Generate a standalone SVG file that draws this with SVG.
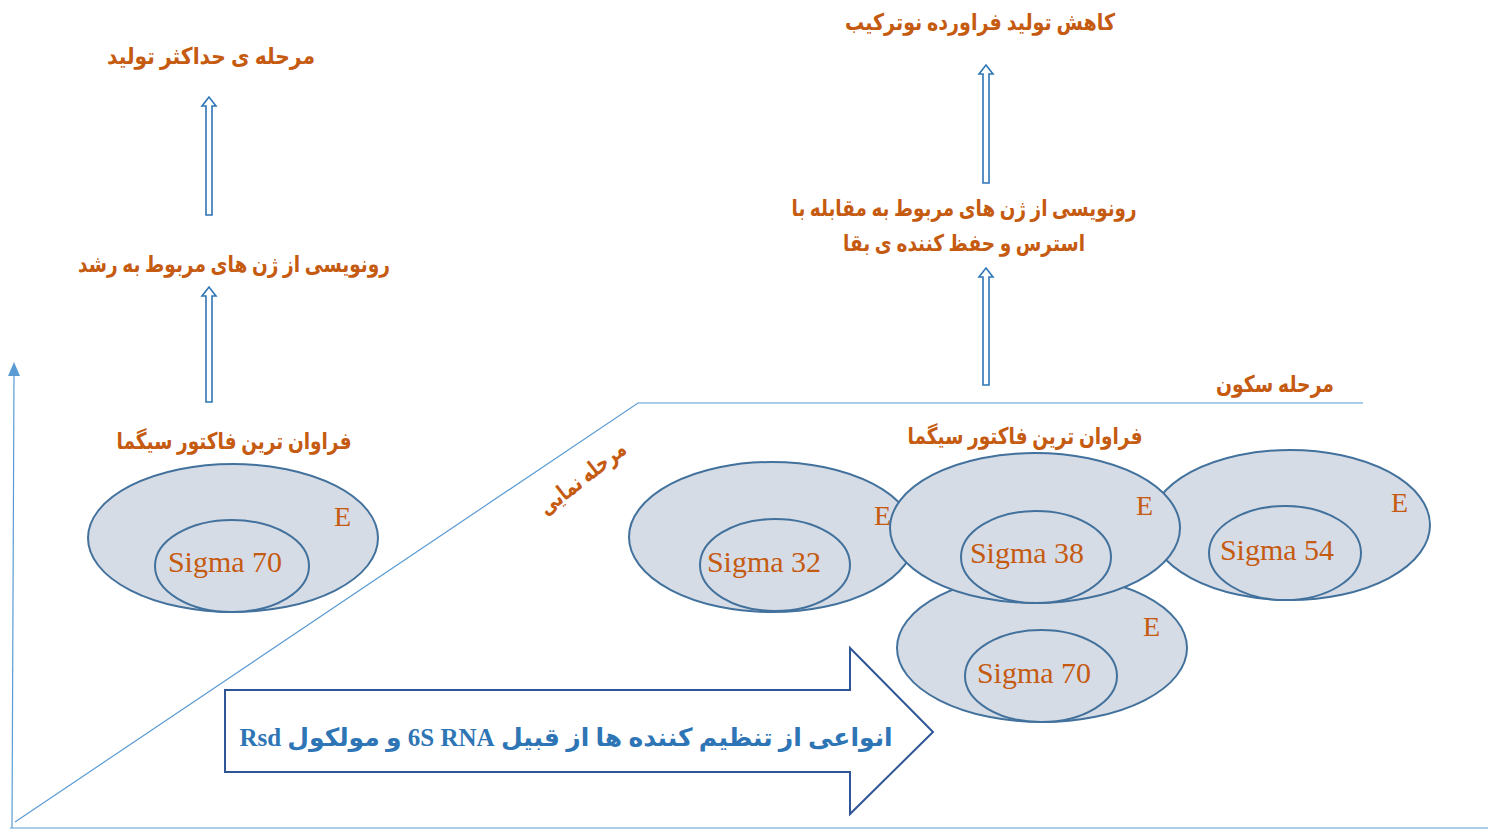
<svg xmlns="http://www.w3.org/2000/svg" width="1488" height="833" viewBox="0 0 1488 833">
<defs>
<style>
.fa{font-family:"Liberation Serif","DejaVu Sans",serif;font-weight:bold;fill:#C55A11;direction:rtl;text-anchor:middle;font-size:23px}
.lat{font-family:"Liberation Serif",serif;fill:#C55A11;font-size:30px;text-anchor:middle}
.e{font-family:"Liberation Serif",serif;fill:#C55A11;font-size:28px}
.outer{fill:#D6DCE5;stroke:#41719C;stroke-width:2}
.inner{fill:#D6DCE5;stroke:#41719C;stroke-width:2}
.ax{stroke:#5B9BD5;stroke-width:1.2;fill:none}
.dbl{fill:#fff;stroke:#2E75B6;stroke-width:1.6}
</style>
</defs>
<rect width="1488" height="833" fill="#fff"/>

<g id="axes">
<line class="ax" x1="12" y1="828" x2="14" y2="372"/>
<polygon points="8,376 20,376 14,362" fill="#5B9BD5"/>
<line class="ax" x1="10" y1="828" x2="1488" y2="828"/>
<polyline class="ax" points="15,822 638,403 1363,403"/>
</g>

<g id="connectors">
<path class="dbl" d="M206,402 V296 H202 L209,287 L216,296 H212 V402 Z"/>
<path class="dbl" d="M206,215 V106 H202 L209,97 L216,106 H212 V215 Z"/>
<path class="dbl" d="M983,385 V277 H979 L986,268 L993,277 H989 V385 Z"/>
<path class="dbl" d="M983,183 V74 H979 L986,65 L993,74 H989 V183 Z"/>
</g>

<g id="txt-max"><text class="fa" x="211" y="64" textLength="208" lengthAdjust="spacingAndGlyphs">مرحله ی حداکثر تولید</text></g>
<g id="txt-growth"><text class="fa" x="234" y="272" textLength="312" lengthAdjust="spacingAndGlyphs">رونویسی از ژن های مربوط به رشد</text></g>
<g id="txt-reduce"><text class="fa" x="980" y="30" textLength="270" lengthAdjust="spacingAndGlyphs">کاهش تولید فراورده نوترکیب</text></g>
<g id="txt-stress"><text class="fa" x="964" y="216" textLength="345" lengthAdjust="spacingAndGlyphs">رونویسی از ژن های مربوط به مقابله با</text><text class="fa" x="964" y="251" textLength="242" lengthAdjust="spacingAndGlyphs">استرس و حفظ  کننده ی بقا</text></g>
<g id="txt-stationary"><text class="fa" x="1275" y="392" textLength="118" lengthAdjust="spacingAndGlyphs">مرحله سکون</text></g>
<g id="txt-exp"><text class="fa" x="0" y="0" transform="translate(587,484) rotate(-38)" textLength="104" lengthAdjust="spacingAndGlyphs">مرحله نمایی</text></g>

<g id="node-left">
<text class="fa" x="234" y="449" textLength="235" lengthAdjust="spacingAndGlyphs">فراوان ترین فاکتور سیگما</text>
<ellipse class="outer" cx="233" cy="538" rx="145" ry="74"/>
<ellipse class="inner" cx="232" cy="566" rx="77" ry="46"/>
<text class="lat" x="225" y="572">Sigma 70</text>
<text class="e" x="334" y="526">E</text>
</g>

<g id="node-s70">
<ellipse class="outer" cx="1042" cy="648" rx="145" ry="74"/>
<ellipse class="inner" cx="1041" cy="676" rx="76" ry="46"/>
<text class="lat" x="1034" y="683">Sigma 70</text>
<text class="e" x="1143" y="636">E</text>
</g>

<g id="node-s32">
<ellipse class="outer" cx="772" cy="537" rx="143" ry="75"/>
<ellipse class="inner" cx="775" cy="565" rx="75" ry="46"/>
<text class="lat" x="764" y="572">Sigma 32</text>
<text class="e" x="874" y="525">E</text>
</g>

<g id="node-s54">
<ellipse class="outer" cx="1290" cy="525" rx="140" ry="75"/>
<ellipse class="inner" cx="1285" cy="553" rx="76" ry="47"/>
<text class="lat" x="1277" y="560">Sigma 54</text>
<text class="e" x="1391" y="512">E</text>
</g>

<g id="node-s38">
<text class="fa" x="1025" y="444" textLength="235" lengthAdjust="spacingAndGlyphs">فراوان ترین فاکتور سیگما</text>
<ellipse class="outer" cx="1035" cy="528" rx="145" ry="75"/>
<ellipse class="inner" cx="1036" cy="557" rx="75" ry="46"/>
<text class="lat" x="1027" y="563">Sigma 38</text>
<text class="e" x="1136" y="515">E</text>
</g>

<g id="node-arrow">
<polygon points="225,690 850,690 850,648 933,732 850,814 850,772 225,772" fill="#fff" stroke="#2F5597" stroke-width="2"/>
<text x="566" y="746" font-family="Liberation Serif,DejaVu Sans,serif" font-weight="bold" font-size="25" fill="#2E75B6" text-anchor="middle" direction="rtl">انواعی از تنظیم کننده ها از قبیل 6S RNA و مولکول Rsd</text>
</g>
</svg>
